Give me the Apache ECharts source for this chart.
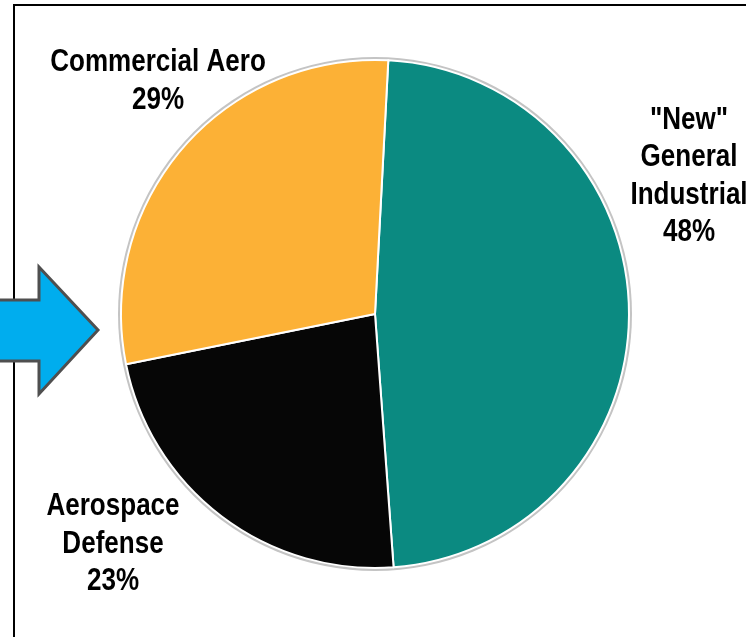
<!DOCTYPE html>
<html>
<head>
<meta charset="utf-8">
<script src="https://cdn.jsdelivr.net/npm/echarts@6/dist/echarts.min.js"></script>
<style>
  html, body { margin: 0; padding: 0; background: #fff; }
  #chart { width: 746px; height: 637px; }
</style>
</head>
<body>
<div id="chart"></div>
<script>
// segment data, clockwise from the top
const segments = ['"New"\nGeneral\nIndustrial', "Aerospace\nDefense", "Commercial Aero"];
const shares = [48, 23, 29];
const segmentColors = ["#0b8a81", "#060606", "#fcb136"];

// where each label block sits (centre)
const labelSpots = [
  { x: 689, y: 176 },
  { x: 113, y: 544 },
  { x: 158, y: 81 },
];

const chart = echarts.init(document.getElementById("chart"));

// labels drawn as text, squeezed to look like a narrow bold face
const labelTexts = segments.map((name, i) => ({
  type: "text",
  x: labelSpots[i].x,
  y: labelSpots[i].y,
  scaleX: 0.84,
  scaleY: 1.04,
  z: 20,
  style: {
    text: name + "\n" + shares[i] + "%",
    font: "bold 31px 'Liberation Sans', Arial, sans-serif",
    lineHeight: 36,
    fill: "#000",
    textAlign: "center",
    textVerticalAlign: "middle",
  },
}));

chart.setOption({
  animation: false,
  graphic: [
    {
      type: "rect",
      shape: { x: 14, y: 5, width: 760, height: 700 },
      style: { fill: "none", stroke: "#000", lineWidth: 2 },
      z: 0,
    },
    {
      type: "polygon",
      shape: {
        points: [[-10, 300], [39, 300], [39, 267], [98, 330], [39, 394], [39, 361], [-10, 361]],
      },
      style: { fill: "#00adee", stroke: "#4f4f4f", lineWidth: 3 },
      z: 10,
    },
    ...labelTexts,
  ],
  series: [
    {
      // thin grey rim round the pie
      type: "pie",
      silent: true,
      center: [375, 314],
      radius: [0, 257],
      label: { show: false },
      itemStyle: { color: "#c4c4c4" },
      data: [1],
      z: 1,
    },
    {
      type: "pie",
      center: [375, 314],
      radius: [0, 254],
      startAngle: 87,
      clockwise: true,
      itemStyle: { borderColor: "#fff", borderWidth: 2 },
      label: { show: false },
      labelLine: { show: false },
      data: segments.map((name, i) => ({
        name: name,
        value: shares[i],
        itemStyle: { color: segmentColors[i] },
      })),
      z: 2,
    },
  ],
});
</script>
</body>
</html>
